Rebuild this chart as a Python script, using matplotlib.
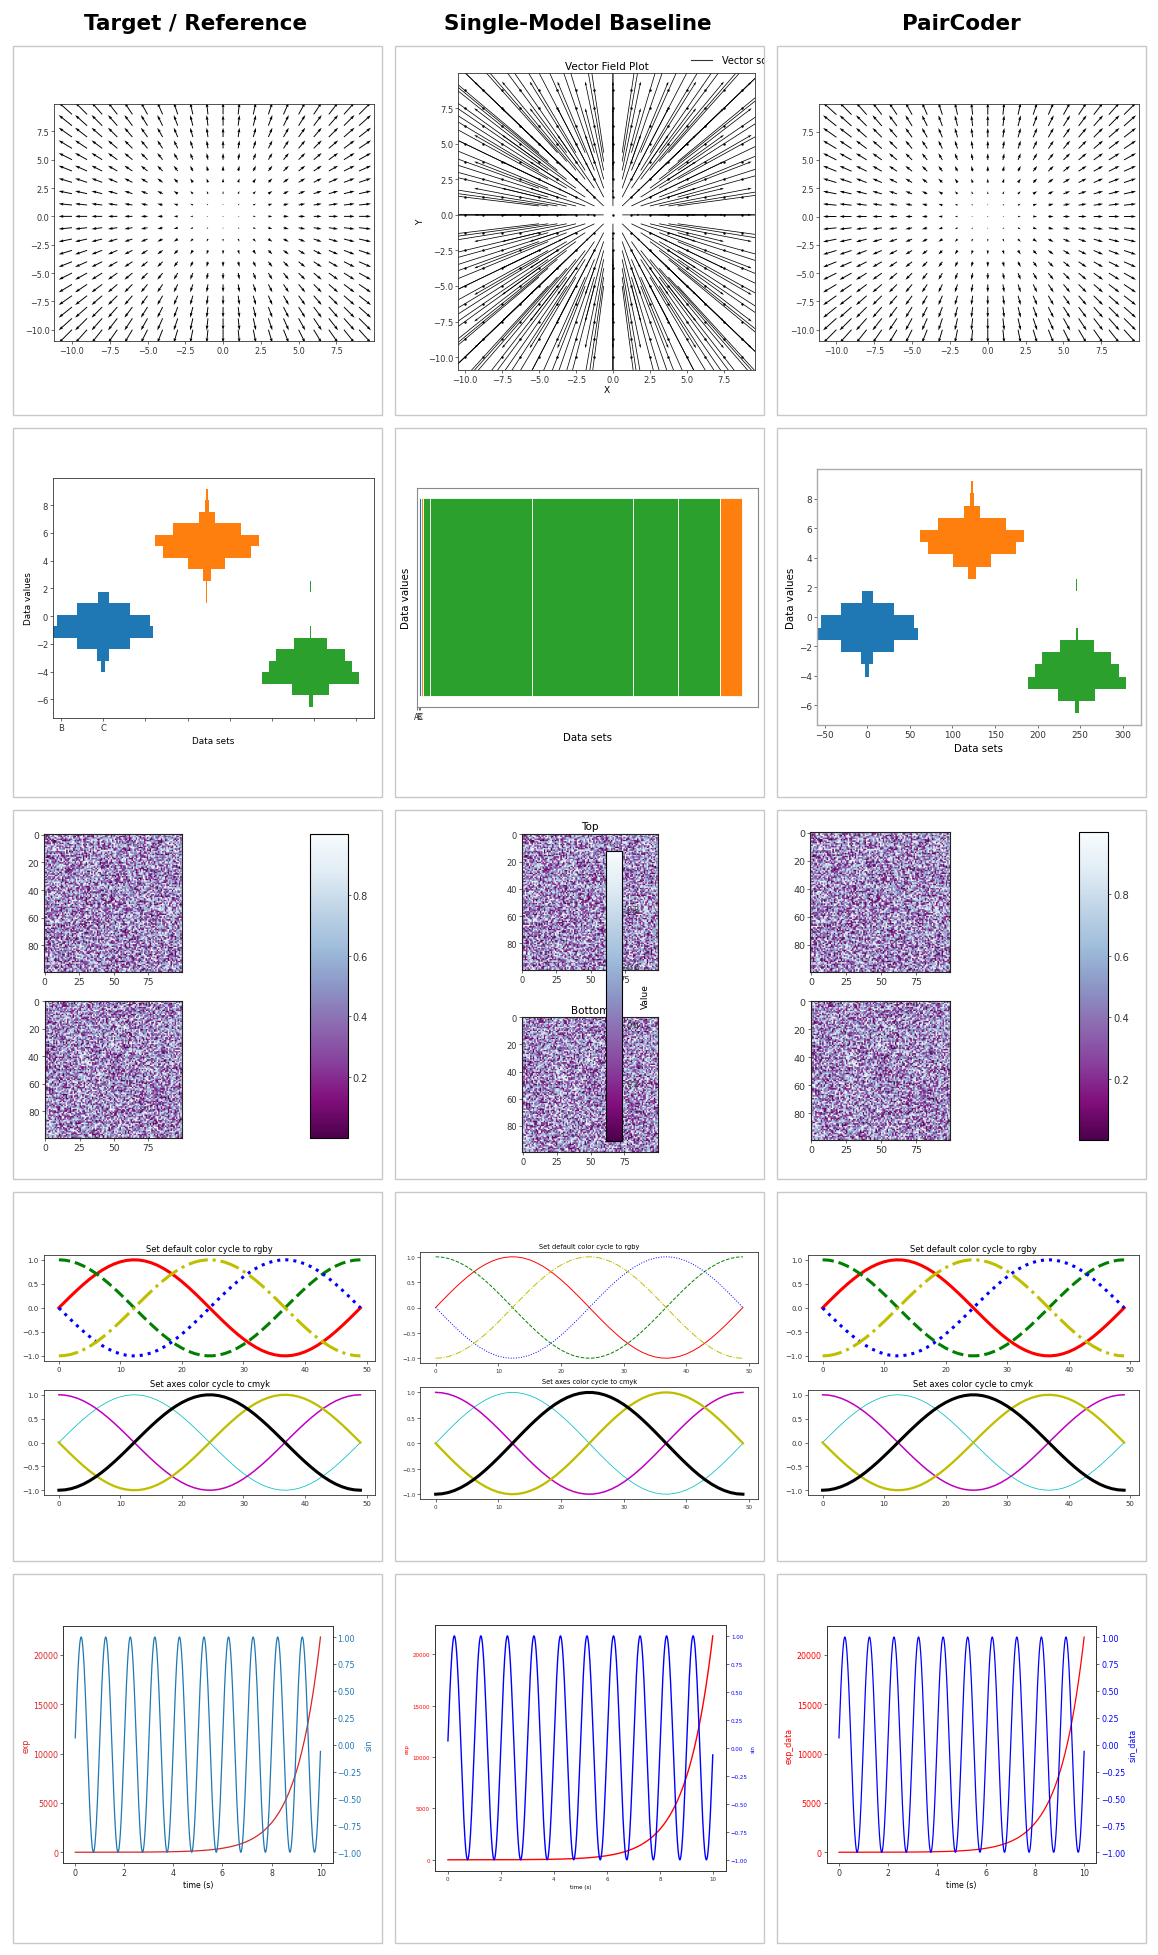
import numpy as np
import matplotlib
matplotlib.use("Agg")
import matplotlib.pyplot as plt
from matplotlib.patches import Rectangle
from matplotlib.lines import Line2D
from matplotlib.transforms import Bbox, TransformedBbox

W, H = 1158, 1956

column_titles = ["Target / Reference", "Single-Model Baseline", "PairCoder"]
column_title_x = [196, 578, 961]
col_edges = [(12.5, 382), (395, 764), (777, 1146)]
row_edges = [(46.5, 415.5), (428.5, 798), (810.5, 1180), (1192.5, 1562), (1574.5, 1944)]

# vector field grids
field_grid = np.arange(-10, 10, 1)
baseline_grid = np.arange(-10, 10, 1.25)

# side-by-side histograms: 19 bins, counts from bottom bin upward
hist_range = (-6.53, 9.18)
counts_a = [0, 0, 0, 5, 14, 63, 119, 110, 63, 13, 0, 0, 0, 0, 0, 0, 0, 0, 0]
counts_b = [0, 0, 0, 0, 0, 0, 0, 0, 0, 1, 1, 9, 44, 104, 123, 80, 19, 5, 2]
counts_c = [5, 44, 115, 99, 81, 40, 2, 0, 0, 0, 1, 0, 0, 0, 0, 0, 0, 0, 0]
hist_labels = ["A", "B", "C"]

# baseline's collapsed bar panel
base_left = [7, 12, 20, 40, 347, 650, 785, 909]
base_width = [5, 8, 20, 307, 303, 135, 124, 68]
base_color = ["#1f77b4", "#ff7f0e", "#2ca02c", "#2ca02c", "#2ca02c", "#2ca02c", "#2ca02c", "#ff7f0e"]

# color cycle demo
cycle_x = np.linspace(0, 2 * np.pi, 50)
phase_offsets = [0, np.pi / 2, np.pi, 3 * np.pi / 2]

# two scales
t = np.arange(0.01, 10.0, 0.01)


def speckle(seed):
    k = np.arange(10000, dtype=np.uint64) + np.uint64(seed * 10007 + 17)
    k = k ^ (k >> np.uint64(33))
    k = k * np.uint64(0xff51afd7ed558ccd)
    k = k ^ (k >> np.uint64(33))
    k = k * np.uint64(0xc4ceb9fe1a85ec53)
    k = k ^ (k >> np.uint64(33))
    return ((k >> np.uint64(11)).astype(np.float64) / 2.0**53).reshape(100, 100)


img_top = speckle(1)
img_bottom = speckle(2)

fig = plt.figure(figsize=(W / 100, H / 100), dpi=100)


def rect(x0, y0, x1, y1):
    return [x0 / W, 1 - y1 / H, (x1 - x0) / W, (y1 - y0) / H]


def add_ax(x0, y0, x1, y1):
    return fig.add_axes(rect(x0, y0, x1, y1))


def tidy(ax, fs, lw=0.6, color="#333333"):
    ax.tick_params(labelsize=fs, length=2, width=0.5, pad=1.5, colors="#333333")
    for s in ax.spines.values():
        s.set_linewidth(lw)
        s.set_edgecolor(color)


# frames and column titles
for (cx0, cx1) in col_edges:
    for (ry0, ry1) in row_edges:
        fig.add_artist(Rectangle((cx0 / W, 1 - ry1 / H), (cx1 - cx0) / W, (ry1 - ry0) / H,
                                 transform=fig.transFigure, fill=False,
                                 edgecolor="#c8c8c8", linewidth=1.0))
for x, title in zip(column_title_x, column_titles):
    fig.text(x / W, 1 - 24 / H, title, ha="center", va="center", fontsize=15.5, weight="bold")

# ---------- row 1: quiver ----------
X, Y = np.meshgrid(field_grid, field_grid)


def target_quiver(x0, y0, x1, y1, fs):
    ax = add_ax(x0, y0, x1, y1)
    ax.quiver(X, Y, X, Y, scale=240)
    ax.set_xlim(-11.17, 9.97)
    ax.set_ylim(-10.97, 9.94)
    tidy(ax, fs)
    return ax


target_quiver(54.3, 104.7, 373.7, 341.7, 5.9)
target_quiver(818.7, 105, 1138.7, 341.7, 5.7)

BX, BY = np.meshgrid(baseline_grid, baseline_grid)
ax = add_ax(458, 74, 755, 371)
ax.quiver(BX, BY, BX, BY, pivot="mid", angles="xy", scale_units="xy", scale=1,
          width=0.0025, color="black")
ax.plot(BX.ravel(), BY.ravel(), "k.", ms=1.5)
ax.set_xlim(-10.47, 9.6)
ax.set_ylim(-10.91, 9.98)
ax.set_title("Vector Field Plot", fontsize=7.5, pad=3)
ax.set_xlabel("X", fontsize=6.5, labelpad=1)
ax.set_ylabel("Y", fontsize=6.5, labelpad=2)
tidy(ax, 6)
fig.add_artist(Line2D([690.7 / W, 712.3 / W], [1 - 61.3 / H, 1 - 61.3 / H],
                      transform=fig.transFigure, color="#333333", lw=0.8))
key = fig.text(722.3 / W, 1 - 61.3 / H, "Vector scale", fontsize=7, va="center", ha="left")
key.set_clip_box(TransformedBbox(Bbox.from_extents(0, 0, 764 / W, 1), fig.transFigure))
key.set_clip_on(True)

# ---------- row 2: histograms ----------
edges = np.linspace(hist_range[0], hist_range[1], len(counts_a) + 1)
bin_h = np.diff(edges)
centers = edges[:-1] + bin_h / 2
hist_sets = [counts_a, counts_b, counts_c]
maxes = [max(c) for c in hist_sets]
x_locations = np.arange(0, sum(maxes), max(maxes))


def draw_hists(ax):
    for x_loc, c in zip(x_locations, hist_sets):
        c = np.array(c)
        ax.barh(centers, c, height=bin_h, left=x_loc - 0.5 * c)
    ax.set_xlim(-59.5, 321.5)
    ax.set_ylim(-7.33, 9.98)


ax = add_ax(53, 478.7, 374.3, 718.7)
draw_hists(ax)
ax.set_xticks(range(-50, 301, 50))
ax.set_xticklabels(hist_labels[1:] + [""] * 6)
ax.set_ylabel("Data values", fontsize=6.4, labelpad=2)
ax.set_xlabel("Data sets", fontsize=6.4, labelpad=3)
tidy(ax, 6)

ax = add_ax(816.7, 470.3, 1141, 726)
draw_hists(ax)
ax.set_ylabel("Data values", fontsize=7.4, labelpad=2)
ax.set_xlabel("Data sets", fontsize=7.4, labelpad=3)
tidy(ax, 6.4, lw=1.0, color="#aaaaaa")

ax = add_ax(416.7, 489.3, 758.3, 707.7)
ax.barh(0.502, base_width, height=0.904, left=base_left, color=base_color,
        edgecolor="white", linewidth=0.6)
ax.set_xlim(0, 1025)
ax.set_ylim(0, 1)
ax.set_yticks([])
ax.set_xticks([1, 6, 11])
ax.set_xticklabels(hist_labels)
ax.set_ylabel("Data values", fontsize=7.4, labelpad=4)
ax.set_xlabel("Data sets", fontsize=7.4, labelpad=8)
tidy(ax, 5.5, lw=0.8, color="#888888")

# ---------- row 3: images with shared colorbar ----------
def image_pair(top, bottom, cbar, fs, cfs, titles=None, cbar_label=None):
    axes = []
    for pos, data in zip([top, bottom], [img_top, img_bottom]):
        a = add_ax(*pos)
        im = a.imshow(data, cmap="BuPu_r")
        a.set_xticks([0, 25, 50, 75])
        a.set_yticks([0, 20, 40, 60, 80])
        tidy(a, fs, lw=0.8, color="#222222")
        axes.append(a)
    if titles:
        for a, ttl in zip(axes, titles):
            a.set_title(ttl, fontsize=7.5, pad=3)
    cax = add_ax(*cbar)
    cb = fig.colorbar(im, cax=cax)
    cb.outline.set_linewidth(0.8)
    cax.tick_params(labelsize=cfs, length=2, width=0.5, pad=1.5, colors="#333333")
    if cbar_label:
        cb.set_label(cbar_label, fontsize=6.5, labelpad=1)


image_pair((43.7, 835, 182.7, 973.3), (43.7, 1001.7, 182.7, 1139), (309.7, 835, 347.7, 1139), 6.6, 7.0)
image_pair((521.7, 834.3, 658, 971.3), (521.7, 1017.7, 658, 1153.3), (606.3, 851.7, 621.7, 1141.7),
           6.0, 6.0, titles=["Top", "Bottom"], cbar_label="Value")
image_pair((810.3, 833.3, 950.3, 973.3), (810.3, 1001.7, 950.3, 1141.3), (1079.3, 833.3, 1108.3, 1141.3), 6.8, 7.2)

# ---------- row 4: color cycles ----------
yy = np.transpose([np.sin(cycle_x + phi) for phi in phase_offsets])
top_colors = ["r", "g", "b", "y"]
top_styles = ["-", "--", ":", "-."]
bottom_colors = ["c", "m", "y", "k"]
bottom_widths = [1, 2, 3, 4]
cycle_yticks = [-1.0, -0.5, 0.0, 0.5, 1.0]


def cycle_panel(dx, top, bottom, fs, tfs, lw_top, lw_scale):
    a0 = add_ax(top[0] + dx, top[1], top[2] + dx, top[3])
    for i in range(4):
        a0.plot(yy[:, i], color=top_colors[i], linestyle=top_styles[i], lw=lw_top)
    a0.set_title("Set default color cycle to rgby", fontsize=tfs, pad=3)
    a0.set_yticks(cycle_yticks)
    tidy(a0, fs)
    a1 = add_ax(bottom[0] + dx, bottom[1], bottom[2] + dx, bottom[3])
    for i in range(4):
        a1.plot(yy[:, i], color=bottom_colors[i], lw=bottom_widths[i] * lw_scale)
    a1.set_title("Set axes color cycle to cmyk", fontsize=tfs, pad=3)
    a1.set_yticks(cycle_yticks)
    tidy(a1, fs)


cycle_panel(0, (43.8, 1256, 375.5, 1361.7), (43.8, 1391, 375.5, 1496), 5, 6, 2.2, 0.55)
cycle_panel(0, (420.3, 1252.7, 758.3, 1364.3), (420.3, 1388.3, 758.3, 1500.3), 4, 4.8, 0.7, 0.55)
cycle_panel(763.7, (43.8, 1256, 375.5, 1361.7), (43.8, 1391, 375.5, 1496), 5, 6, 2.2, 0.55)

# ---------- row 5: two scales ----------
def two_scales(pos, c1, c2, lab1, lab2, fs, lfs, lw):
    a1 = add_ax(*pos)
    a1.plot(t, np.exp(t), color=c1, lw=lw)
    a1.set_xlabel("time (s)", fontsize=lfs, labelpad=2)
    a1.set_ylabel(lab1, color=c1, fontsize=lfs, labelpad=2)
    tidy(a1, fs)
    a1.tick_params(axis="y", labelcolor=c1)
    a2 = a1.twinx()
    a2.plot(t, np.sin(2 * np.pi * t), color=c2, lw=lw)
    a2.set_ylabel(lab2, color=c2, fontsize=lfs, labelpad=2)
    tidy(a2, fs)
    a2.tick_params(axis="y", labelcolor=c2)


two_scales((63, 1627.3, 332.7, 1864), "tab:red", "tab:blue", "exp", "sin", 5.7, 5.7, 0.9)
two_scales((434.7, 1625.7, 726, 1872), "red", "blue", "exp", "sin", 4, 4, 1.0)
two_scales((826.7, 1627.3, 1096.4, 1864), "red", "blue", "exp_data", "sin_data", 5.7, 5.7, 0.9)

fig.savefig("out.png", dpi=100)
